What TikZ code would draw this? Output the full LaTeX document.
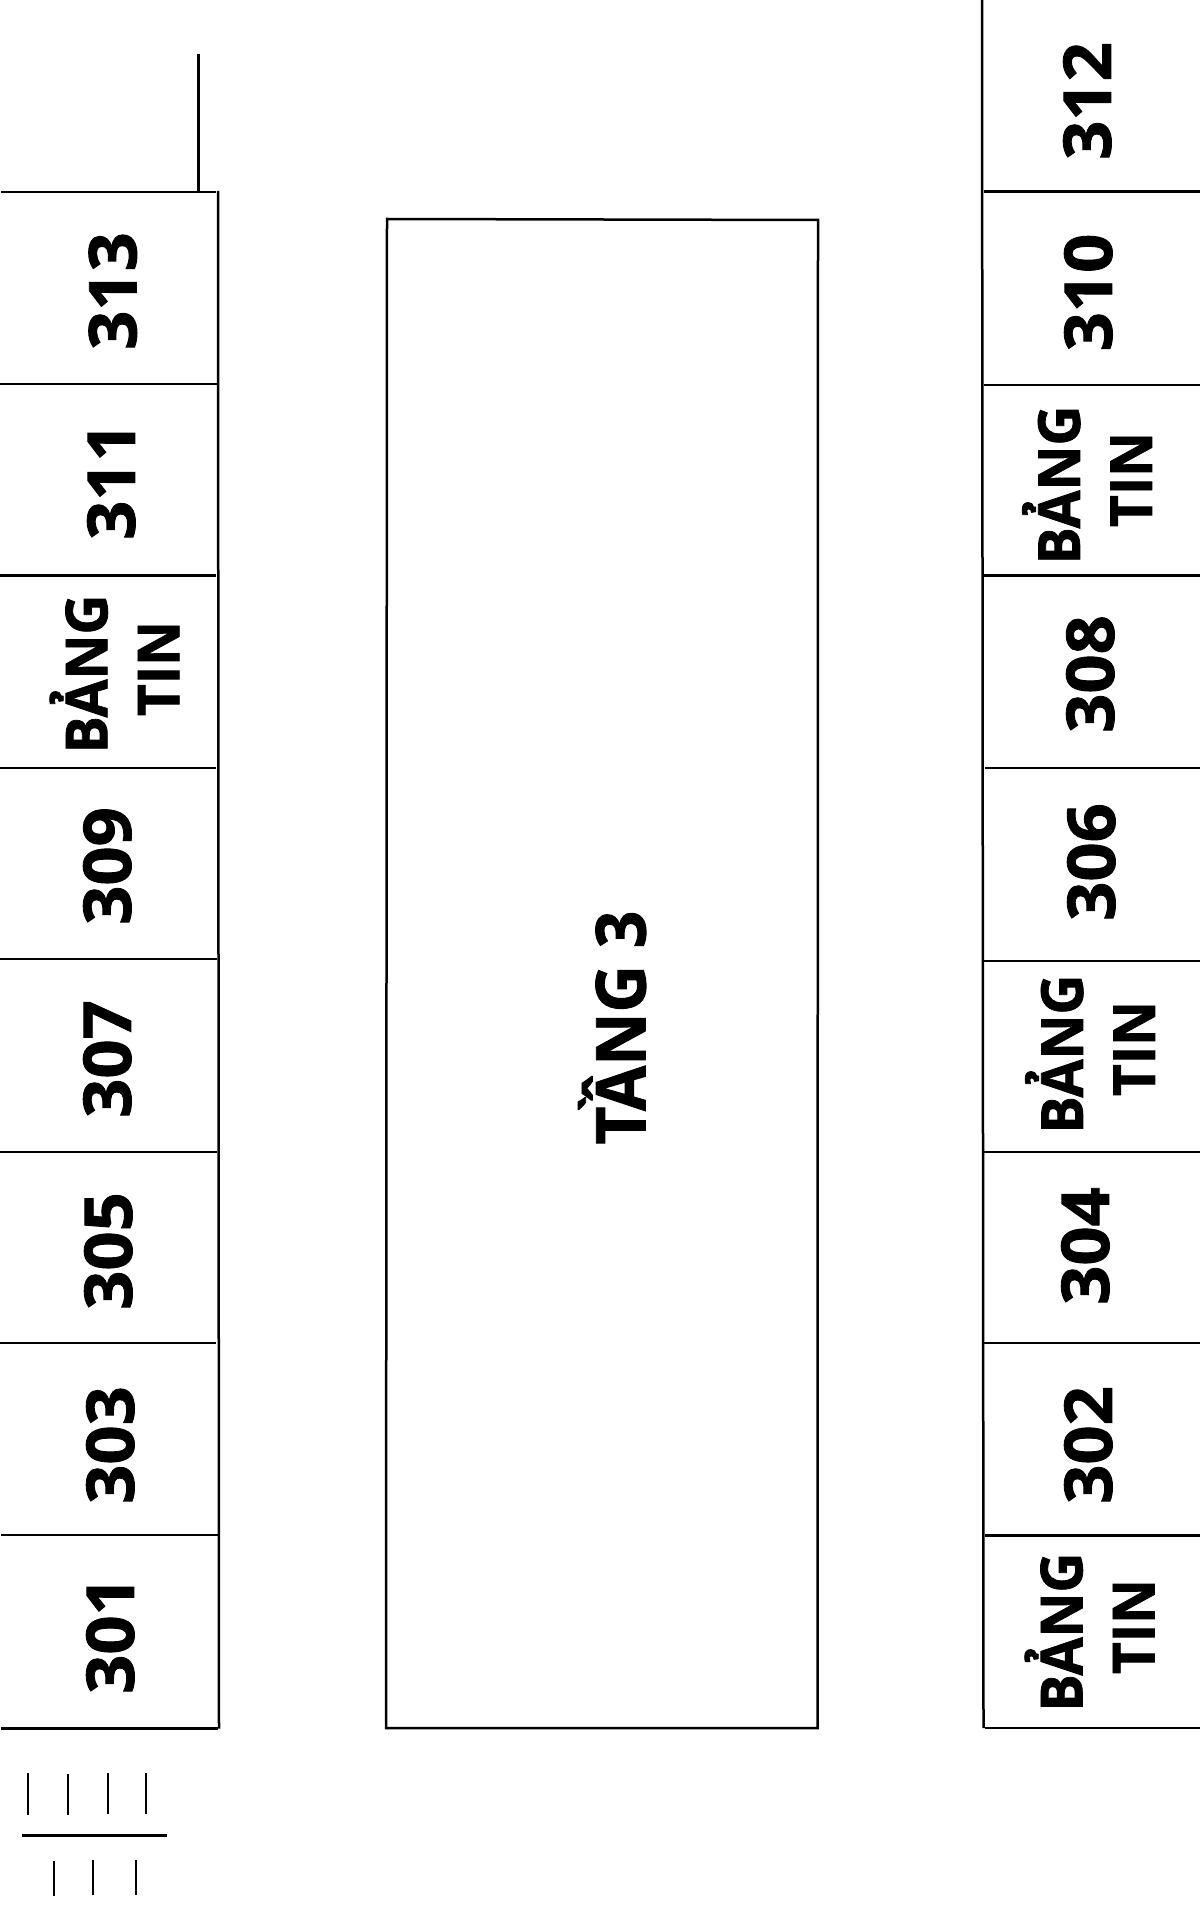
\documentclass[tikz,border=0pt]{standalone}
\usepackage{fontspec}
\setmainfont{Open Sans}
\newfontfamily\roomfont{Open Sans}[FakeStretch=1.04, BoldFeatures={FakeBold=1.3}]
\newfontfamily\boardfont{Open Sans}[FakeStretch=0.95, BoldFeatures={FakeBold=1.3}]
\tikzset{
wall/.style={line width=1.25pt},
tick/.style={line width=1pt},
room/.style={rotate=90, inner sep=0pt, text depth=0pt, font=\roomfont\bfseries\fontsize{33}{36}\selectfont},
board/.style={rotate=90, inner sep=0pt, align=center, font=\boardfont\bfseries\fontsize{29}{36}\selectfont},
floorname/.style={rotate=90, inner sep=0pt, text height=24.5pt, text depth=0pt, font=\boardfont\bfseries\fontsize{34.5}{36}\selectfont},
}
\begin{document}
\begin{tikzpicture}[x=0.5pt, y=-0.5pt]
\useasboundingbox (0,0) rectangle (1200,1920);
% left wing
\draw[wall] (198.5,54) -- (198.5,192);
\draw[wall] (218,191) -- (219,1728.5);
\draw[wall] (1,192) -- (216,192);
\draw[wall] (0,384) -- (217,384);
\draw[wall] (0,575.5) -- (216,575.5);
\draw[wall] (0,768) -- (216,768);
\draw[wall] (0,959) -- (217,959);
\draw[wall] (0,1152) -- (217,1152);
\draw[wall] (0,1343) -- (216,1343);
\draw[wall] (1,1535) -- (218,1535);
\draw[wall] (1,1728.5) -- (218,1728.5);
\node[room] (r313) at (112.5,291){313};
\node[room] (r311) at (111,481){311};
\node[board] (bl1) at (114.5,674){BẢNG\\\hspace*{5.5pt}TIN};
\node[room] (r309) at (107,866){309};
\node[room] (r307) at (107,1059){307};
\node[room] (r305) at (108,1251){305};
\node[room] (r303) at (110,1445){303};
\node[room] (r301) at (110,1635){301};
% middle block
\draw[wall] (387,219) -- (818,220) -- (817.5,1728) -- (386,1728) -- cycle;
\node[floorname] (tang3) at (621,1027.5){TẦNG 3};
% right wing
\draw[wall] (982,0) -- (983.5,1728);
\draw[wall] (984,191.5) -- (1200,191.5);
\draw[wall] (984,385) -- (1200,385);
\draw[wall] (984,575.5) -- (1200,575.5);
\draw[wall] (985,768) -- (1200,768);
\draw[wall] (984,961) -- (1200,961);
\draw[wall] (984,1152) -- (1200,1152);
\draw[wall] (984,1343) -- (1200,1343);
\draw[wall] (985,1535.5) -- (1200,1535.5);
\draw[wall] (985,1728) -- (1200,1728);
\node[room] (r312) at (1087,101){312};
\node[room] (r310) at (1088,292.5){310};
\node[board] (br1) at (1087,485){BẢNG\\\hspace*{5.5pt}TIN};
\node[room] (r308) at (1090,674){308};
\node[room] (r306) at (1091,862){306};
\node[board] (br2) at (1090,1054){BẢNG\\\hspace*{5.5pt}TIN};
\node[room] (r304) at (1085,1246){304};
\node[room] (r302) at (1088,1445){302};
\node[board] (br3) at (1089.5,1632){BẢNG\\\hspace*{5.5pt}TIN};
% stairs
\draw[tick] (27.5,1773) -- (27.5,1815);
\draw[tick] (68,1774) -- (68,1815);
\draw[tick] (108,1773) -- (108,1814);
\draw[tick] (146,1773) -- (146,1814);
\draw[line width=1.3pt] (22,1835.5) -- (167,1835.5);
\draw[tick] (53.5,1861) -- (53.5,1896);
\draw[tick] (93,1860) -- (93,1895);
\draw[tick] (136,1860) -- (136,1895);
\end{tikzpicture}
\end{document}
